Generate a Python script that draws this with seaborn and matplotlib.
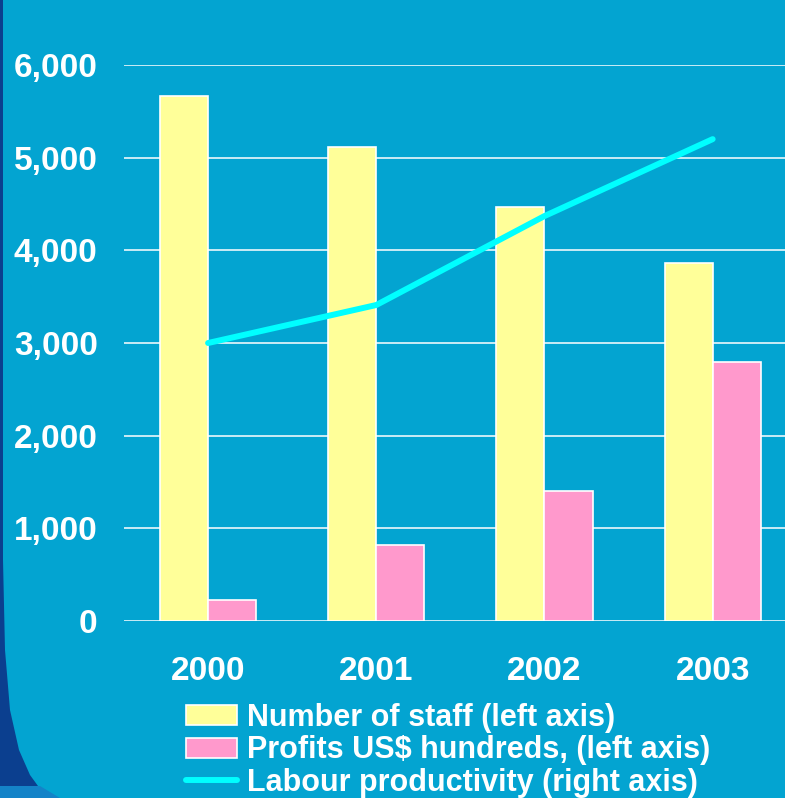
import numpy as np
import pandas as pd
import matplotlib
matplotlib.use("Agg")
import matplotlib.pyplot as plt
from matplotlib.patches import Patch, Polygon
from matplotlib.lines import Line2D
import matplotlib.ticker as mticker
import seaborn as sns

years = ["2000", "2001", "2002", "2003"]
staff = [5670, 5115, 4470, 3865]
profits = [225, 820, 1400, 2800]
productivity = [3000, 3410, 4370, 5200]
series_names = ["Number of staff (left axis)", "Profits US$ hundreds, (left axis)"]
line_name = "Labour productivity (right axis)"
yticks = [0, 1000, 2000, 3000, 4000, 5000, 6000]

BG = "#03a4d1"
YELLOW = "#ffff99"
PINK = "#ff99cc"
CYAN = "#00ffff"

sns.set_theme(style="white")
plt.rcParams["font.family"] = ["Liberation Sans", "DejaVu Sans"]
plt.rcParams["font.weight"] = "bold"

W, H = 785, 798
fig = plt.figure(figsize=(W / 100, H / 100), dpi=100)
fig.patch.set_facecolor(BG)

# decorative dark shape on the left edge (figure pixel coords)
pts = [(0, 0), (3, 0), (3, 560), (5, 650), (10, 710), (19, 750), (30, 775), (38, 786), (0, 786)]
fig.patches.append(Polygon([(x / W, 1 - y / H) for x, y in pts], closed=True,
                           transform=fig.transFigure, facecolor="#0b3f8f",
                           edgecolor="none", zorder=0))
band = [(0, 786), (40, 786), (60, 798), (0, 798)]
fig.patches.append(Polygon([(x / W, 1 - y / H) for x, y in band], closed=True,
                           transform=fig.transFigure, facecolor="#1483c8",
                           edgecolor="none", zorder=0))

ax_left = 124 / W
ax_bottom = 1 - 621 / H
ax_top = 1 - 65 / H
ax = fig.add_axes([ax_left, ax_bottom, 1 - ax_left, ax_top - ax_bottom])
ax.set_facecolor("none")

df = pd.DataFrame({
    "year": years * 2,
    "series": [series_names[0]] * 4 + [series_names[1]] * 4,
    "value": staff + profits,
})
sns.barplot(data=df, x="year", y="value", hue="series", order=years,
            hue_order=series_names, palette=[YELLOW, PINK], width=0.572,
            gap=0, edgecolor="white", linewidth=1.2, saturation=1,
            ax=ax, legend=False, zorder=2)

ax.set_ylim(0, 6000)
ax.set_xlim(-0.5, 3.43)
ax.set_yticks(yticks)
ax.yaxis.set_major_formatter(mticker.FuncFormatter(lambda v, p: f"{int(v):,}"))
ax.grid(axis="y", color="white", linewidth=1.1)
ax.grid(axis="x", visible=False)
ax.set_axisbelow(True)
for s in ax.spines.values():
    s.set_visible(False)
ax.tick_params(axis="y", length=0, pad=19, labelsize=24, labelcolor="white")
ax.tick_params(axis="x", length=0, pad=25, labelsize=24, labelcolor="white")
for lab in ax.get_xticklabels() + ax.get_yticklabels():
    lab.set_fontweight("bold")
ax.set_xlabel("")
ax.set_ylabel("")

ax2 = ax.twinx()
ax2.set_ylim(0, 6000)
sns.lineplot(x=np.arange(len(years)), y=productivity, ax=ax2, color=CYAN,
             linewidth=4.3, solid_capstyle="round")
ax2.set_xlim(-0.5, 3.43)
ax2.set_yticks([])
ax2.set_ylabel("")
for s in ax2.spines.values():
    s.set_visible(False)

handles = [Patch(facecolor=YELLOW, edgecolor="white", linewidth=1.2),
           Patch(facecolor=PINK, edgecolor="white", linewidth=1.2),
           Line2D([0], [0], color=CYAN, linewidth=4.3, solid_capstyle="round")]
leg = fig.legend(handles, series_names + [line_name], loc="upper left",
                 bbox_to_anchor=(186 / W, 1 - 703 / H), frameon=False,
                 prop={"family": ["Liberation Sans"], "weight": "bold", "size": 22},
                 labelcolor="white", handlelength=1.67, handleheight=0.65,
                 handletextpad=0.33, labelspacing=0.08, borderpad=0,
                 borderaxespad=0)

fig.savefig("out.png", dpi=100, facecolor=fig.get_facecolor())
